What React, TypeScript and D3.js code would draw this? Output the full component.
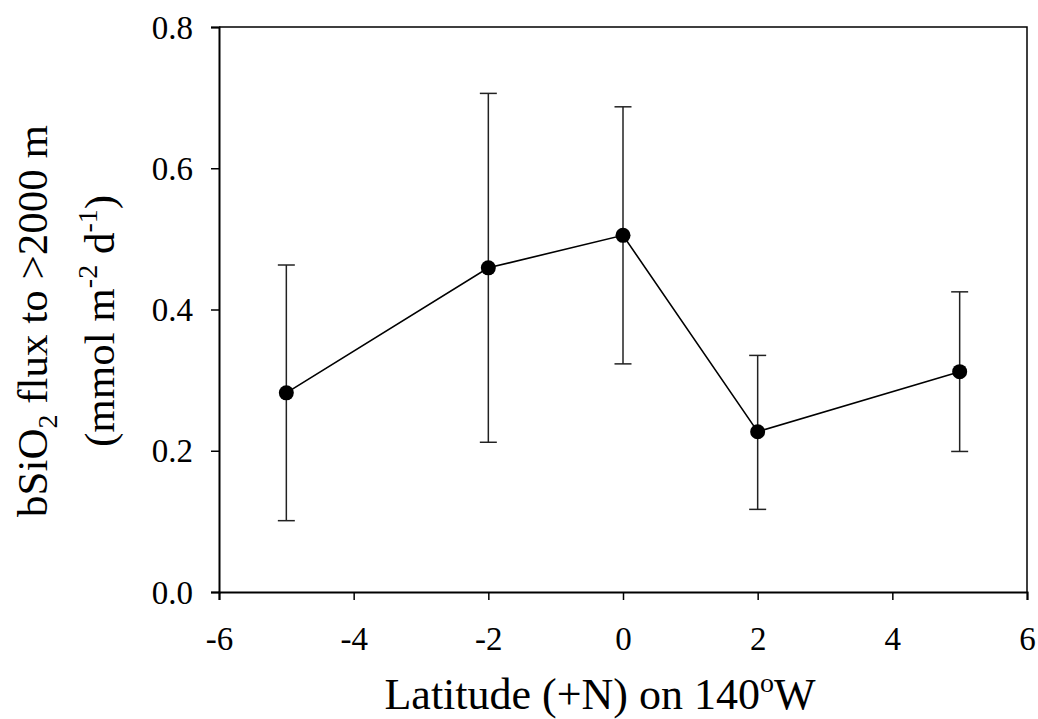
import {useEffect, useRef} from "react";
import * as d3 from "d3";

// latitude (+N) along 140W
const latitudes = [-5, -2, 0, 2, 5];
// bSiO2 flux to >2000 m, mmol m-2 d-1
const fluxMean = [0.282, 0.459, 0.505, 0.227, 0.312];
const fluxUpper = [0.463, 0.706, 0.687, 0.335, 0.425];
const fluxLower = [0.101, 0.212, 0.323, 0.117, 0.199];
const xTicks = [-6, -4, -2, 0, 2, 4, 6];
const yTicks = [0, 0.2, 0.4, 0.6, 0.8];

function App() {
    const myNode = useRef<SVGSVGElement>(null);

    useEffect(() => {
        const width = 1038;
        const height = 719;
        const left = 219, right = 1027, top = 27, bottom = 592;
        const font = "Liberation Serif, Times New Roman, serif";

        const svg = d3.select(myNode.current);
        svg.selectAll("*").remove();
        svg.attr("width", width).attr("height", height);

        const xScale = d3.scaleLinear().domain([-6, 6]).range([left, right]);
        const yScale = d3.scaleLinear().domain([0, 0.8]).range([bottom, top]);

        const data = latitudes.map((lat, i) => ({
            lat,
            mean: fluxMean[i],
            hi: fluxUpper[i],
            lo: fluxLower[i],
        }));

        // frame (top + right, no ticks)
        svg.append("path")
            .attr("d", `M${left},${top}H${right}V${bottom}`)
            .attr("fill", "none")
            .attr("stroke", "#000")
            .attr("stroke-width", 1.5);

        const xAxis = svg.append("g")
            .attr("transform", `translate(0,${bottom})`)
            .call(d3.axisBottom(xScale).tickValues(xTicks).tickSize(8).tickPadding(10)
                .tickFormat((d: any) => String(d)));
        const yAxis = svg.append("g")
            .attr("transform", `translate(${left},0)`)
            .call(d3.axisLeft(yScale).tickValues(yTicks).tickSize(8).tickPadding(18)
                .tickFormat((d: any) => d.toFixed(1)));

        [xAxis, yAxis].forEach(ax => {
            ax.attr("font-family", font).attr("font-size", 33);
            ax.select(".domain").attr("stroke", "#000").attr("stroke-width", 2);
            ax.selectAll(".tick line").attr("stroke", "#000").attr("stroke-width", 1.5);
            ax.selectAll(".tick text")
                .attr("font-family", font)
                .attr("font-size", 33)
                .attr("fill", "#000");
        });
        xAxis.selectAll(".tick text").attr("dy", "40px");
        yAxis.selectAll(".tick text").attr("dy", "11px");

        // error bars
        const bars = svg.append("g").attr("stroke", "#222").attr("stroke-width", 1.5);
        data.forEach(d => {
            const x = xScale(d.lat);
            bars.append("line").attr("x1", x).attr("x2", x).attr("y1", yScale(d.hi)).attr("y2", yScale(d.lo));
            bars.append("line").attr("x1", x - 8.5).attr("x2", x + 8.5).attr("y1", yScale(d.hi)).attr("y2", yScale(d.hi));
            bars.append("line").attr("x1", x - 8.5).attr("x2", x + 8.5).attr("y1", yScale(d.lo)).attr("y2", yScale(d.lo));
        });

        const line = d3.line<any>().x(d => xScale(d.lat)).y(d => yScale(d.mean));
        svg.append("path")
            .datum(data)
            .attr("d", line)
            .attr("fill", "none")
            .attr("stroke", "#000")
            .attr("stroke-width", 1.6);

        svg.selectAll("circle.pt")
            .data(data)
            .enter()
            .append("circle")
            .attr("class", "pt")
            .attr("cx", d => xScale(d.lat))
            .attr("cy", d => yScale(d.mean))
            .attr("r", 7.5)
            .attr("fill", "#000");

        // x title
        const xt = svg.append("text")
            .attr("x", 600)
            .attr("y", 709)
            .attr("text-anchor", "middle")
            .attr("font-family", font)
            .attr("font-size", 44)
            .attr("fill", "#000");
        xt.append("tspan").text("Latitude (+N) on 140");
        xt.append("tspan").attr("font-size", 28).attr("dy", -17).text("o");
        xt.append("tspan").attr("dy", 17).text("W");

        // y title, two lines
        const yt1 = svg.append("text")
            .attr("transform", "translate(47,321) rotate(-90)")
            .attr("text-anchor", "middle")
            .attr("font-family", font)
            .attr("font-size", 43)
            .attr("fill", "#000");
        yt1.append("tspan").text("bSiO");
        yt1.append("tspan").attr("font-size", 28).attr("dy", 10).text("2");
        yt1.append("tspan").attr("dy", -10).text(" flux to >2000 m");

        const yt2 = svg.append("text")
            .attr("transform", "translate(114,321) rotate(-90)")
            .attr("text-anchor", "middle")
            .attr("font-family", font)
            .attr("font-size", 43)
            .attr("fill", "#000");
        yt2.append("tspan").text("(mmol m");
        yt2.append("tspan").attr("font-size", 28).attr("dy", -17).text("-2");
        yt2.append("tspan").attr("dy", 17).text(" d");
        yt2.append("tspan").attr("font-size", 28).attr("dy", -17).text("-1");
        yt2.append("tspan").attr("dy", 17).text(")");
    }, []);

    return (
        <div style={{position: "absolute", left: 0, top: 0, background: "#fff"}}>
            <svg ref={myNode} style={{display: "block"}}></svg>
        </div>
    );
}

export default App;
